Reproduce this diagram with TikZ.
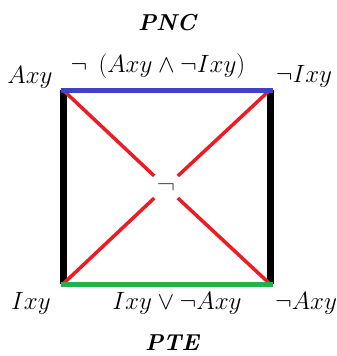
\RequirePackage{fix-cm}
\documentclass[tikz,border=0pt]{standalone}
\usepackage{amssymb}
\usepackage{xcolor}
\usepackage{tikz}
\usetikzlibrary{positioning}
\definecolor{sqblue}{RGB}{64,64,200}
\definecolor{sqgreen}{RGB}{34,177,76}
\definecolor{sqred}{RGB}{237,28,36}

\begin{document}
\begin{tikzpicture}[x=1pt, y=-1pt, font=\fontsize{25}{30}\selectfont,
    lbl/.style={inner sep=0pt, anchor=base},
    ttl/.style={inner sep=0pt, anchor=base, font=\fontsize{23}{27}\selectfont\bfseries\itshape},
    side/.style={line width=7pt, black},
    diag/.style={line width=3.5pt, sqred}]
    \useasboundingbox (0,0) rectangle (337,356);
    % corners of the square
    \coordinate (tl) at (63,90);
    \coordinate (tr) at (270,90);
    \coordinate (bl) at (63,284);
    \coordinate (br) at (270,284);
    \node[circle, minimum size=32pt, inner sep=0pt, text=black!65, font=\fontsize{28}{32}\selectfont] (neg) at (166,187) {$\neg$};
    \draw[side] (tl)--(bl); \draw[side] (tr)--(br);
    \draw[diag] (tl)--(neg); \draw[diag] (neg)--(br);
    \draw[diag] (tr)--(neg); \draw[diag] (neg)--(bl);
    \draw[line width=5pt, sqblue, line cap=rect] (tl)--(tr);
    \draw[line width=5pt, sqgreen, line cap=rect] (bl)--(br);
    % labels
    \node[ttl] (pnc) at (167,30) {PNC};
    \node[lbl] (axy) at (30,83) {$Axy$};
    \node[lbl] (top) at (158,72) {$\neg\;\,(Axy \wedge \neg Ixy)$};
    \node[lbl] (nixy) at (304,82) {$\neg Ixy$};
    \node[lbl] (ixy) at (31,309) {$Ixy$};
    \node[lbl] (bot) at (177,309) {$Ixy \vee \neg Axy$};
    \node[lbl] (naxy) at (306,309) {$\neg Axy$};
    \node[ttl] (pte) at (172,350) {PTE};
  \end{tikzpicture}
\end{document}
